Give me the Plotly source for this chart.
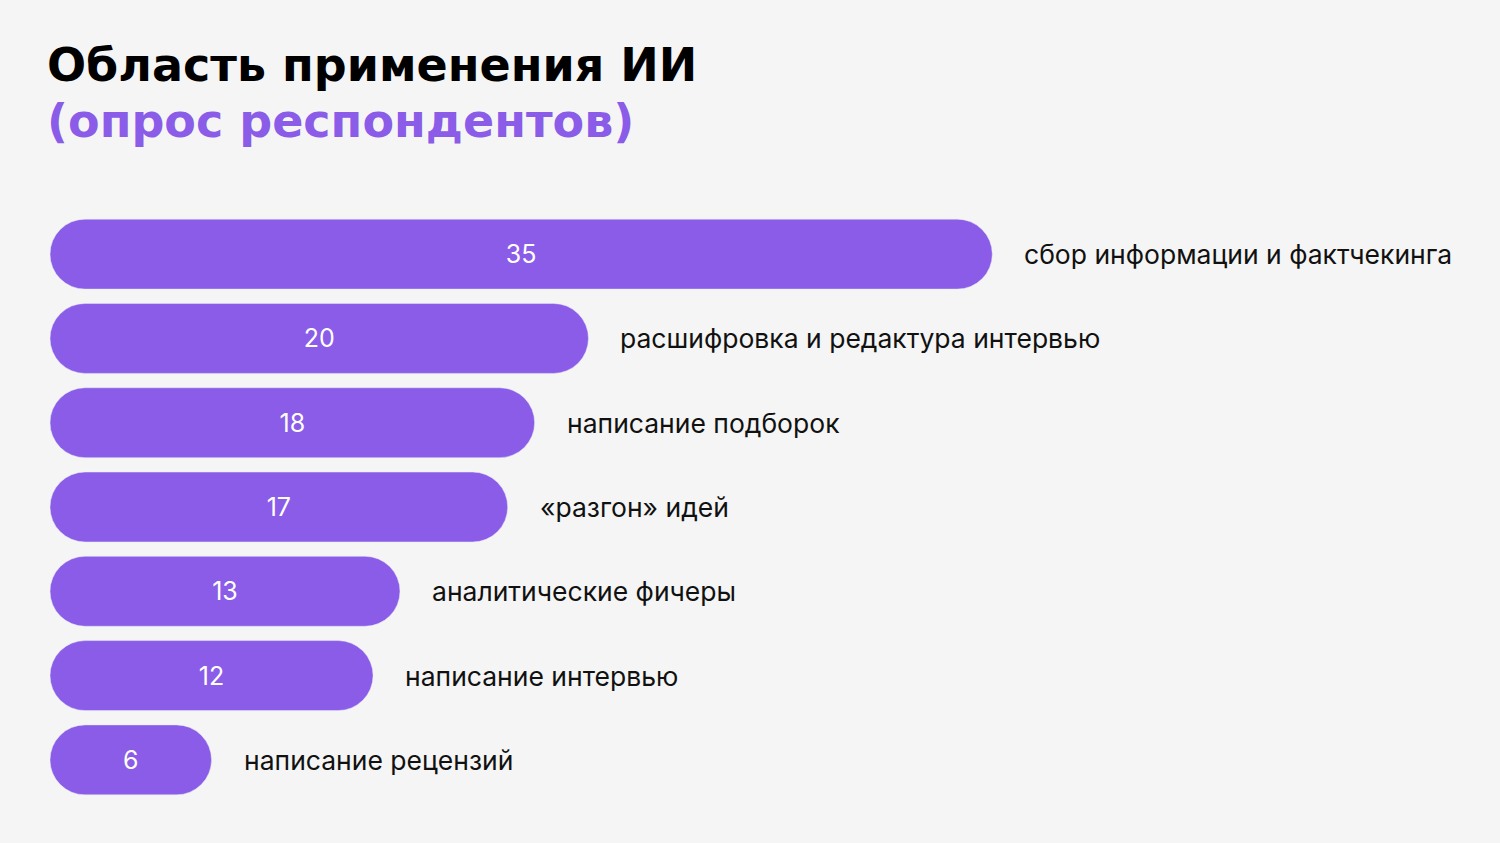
import plotly.graph_objects as go

# data (top to bottom)
categories = [
    "сбор информации и фактчекинга",
    "расшифровка и редактура интервью",
    "написание подборок",
    "«разгон» идей",
    "аналитические фичеры",
    "написание интервью",
    "написание рецензий",
]
values = [35, 20, 18, 17, 13, 12, 6]

title_line1 = "Область применения ИИ"
title_line2 = "(опрос респондентов)"

purple = "#8A5CE8"
bg = "#F5F5F5"

fig = go.Figure()

# explicit base -> plotly rounds both ends of the bar
fig.add_trace(go.Bar(
    y=categories, x=values, base=[0] * len(values), orientation="h",
    marker=dict(color=purple, cornerradius="50%"),
    text=[str(v) for v in values],
    textposition="inside", insidetextanchor="middle",
    textfont=dict(family="Inter", size=25, color="white"),
    hoverinfo="skip", showlegend=False,
))

annotations = []
for c, v in zip(categories, values):
    annotations.append(dict(
        x=v, y=c, xref="x", yref="y", text=c, showarrow=False,
        xanchor="left", yanchor="middle", xshift=30,
        font=dict(family="Inter", size=26.5, color="#111111"),
    ))

# two-line title, black + purple
annotations.append(dict(
    x=0, y=1.250, xref="paper", yref="paper", text="<b>" + title_line1 + "</b>",
    showarrow=False, xanchor="left", yanchor="middle", xshift=-5,
    font=dict(family="DejaVu Sans", size=46, color="#000000"),
))
annotations.append(dict(
    x=0, y=1.155, xref="paper", yref="paper", text="<b>" + title_line2 + "</b>",
    showarrow=False, xanchor="left", yanchor="middle", xshift=-5,
    font=dict(family="DejaVu Sans", size=46, color=purple),
))

fig.update_layout(
    width=1500, height=843,
    margin=dict(l=50, r=50, t=212, b=41),
    paper_bgcolor=bg, plot_bgcolor=bg,
    bargap=0.17,
    uniformtext=dict(mode="show", minsize=10),
    annotations=annotations,
    xaxis=dict(range=[0, 52.0], visible=False, fixedrange=True),
    yaxis=dict(categoryorder="array", categoryarray=categories, autorange="reversed",
               visible=False, fixedrange=True),
)

fig.write_html("out.html", config={"displayModeBar": False},
               post_script="document.body.style.margin='0';")
